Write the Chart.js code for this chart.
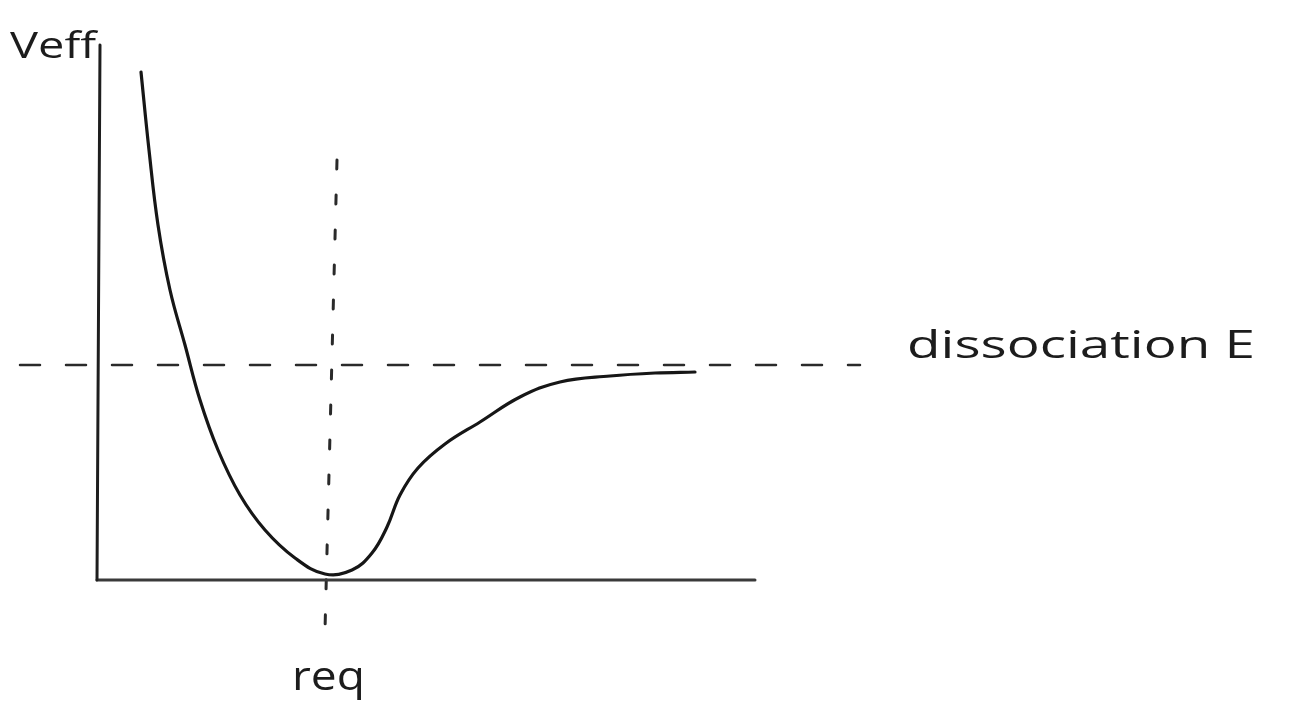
<!DOCTYPE html>
<html>
<head>
<meta charset="utf-8">
<script src="https://cdn.jsdelivr.net/npm/chart.js@4.4.1/dist/chart.umd.min.js"></script>
<style>
  html, body { margin: 0; padding: 0; background: #ffffff; }
  #wrap { width: 1304px; height: 726px; position: relative; }
</style>
</head>
<body>
<div id="wrap"><canvas id="c"></canvas></div>
<script>
// ---- data (r = separation, V = effective potential, arbitrary units) ----
const curveR = [0.44, 0.52, 0.61, 0.73, 0.88, 1.03, 1.21, 1.43, 1.68, 1.98, 2.28, 2.55, 2.75, 2.90, 3.03, 3.21, 3.48, 3.83, 4.23, 4.63, 5.13, 5.58, 5.98];
const curveV = [5.08, 4.30, 3.55, 2.90, 2.35, 1.80, 1.30, 0.85, 0.50, 0.22, 0.06, 0.10, 0.27, 0.53, 0.85, 1.12, 1.36, 1.58, 1.83, 1.98, 2.04, 2.07, 2.08];
const dissocR = [-0.77, 7.63];
const dissocV = [2.15, 2.15];
const reqR = [2.40, 2.28];
const reqV = [4.20, -0.50];
const yAxisR = [0.03, 0.00];
const yAxisV = [5.35, 0.00];
const xAxisR = [0.00, 6.58];
const xAxisV = [0.00, 0.00];
const labelTexts = ["Veff", "dissociation E", "req"];

const pts = (xs, ys) => xs.map((x, i) => ({ x: x, y: ys[i] }));

// label placement (left r, baseline V, width in r units, font px)
const labelPlacement = [
  { r: -0.87, v: 5.22, w: 0.86, size: 36 },
  { r: 8.10, v: 2.22, w: 3.48, size: 38 },
  { r: 1.95, v: -1.10, w: 0.73, size: 40 }
];

const textPlugin = {
  id: 'sketchText',
  afterDatasetsDraw(chart) {
    const ctx = chart.ctx;
    const xs = chart.scales.x, ys = chart.scales.y;
    ctx.save();
    ctx.fillStyle = '#1c1c1c';
    ctx.textBaseline = 'alphabetic';
    labelTexts.forEach((t, i) => {
      const p = labelPlacement[i];
      const px = xs.getPixelForValue(p.r);
      const py = ys.getPixelForValue(p.v);
      const target = xs.getPixelForValue(p.r + p.w) - px;
      ctx.font = p.size + 'px "Open Sans", "DejaVu Sans", sans-serif';
      const m = ctx.measureText(t).width;
      ctx.save();
      ctx.translate(px, py);
      ctx.scale(target / m, 1);
      ctx.fillText(t, 0, 0);
      ctx.restore();
    });
    ctx.restore();
  }
};

new Chart(document.getElementById('c'), {
  type: 'line',
  data: {
    datasets: [
      { data: pts(yAxisR, yAxisV), borderColor: '#1e1e1e', borderWidth: 3, pointRadius: 0, tension: 0 },
      { data: pts(xAxisR, xAxisV), borderColor: '#3a3a3a', borderWidth: 3, pointRadius: 0, tension: 0 },
      { data: pts(dissocR, dissocV), borderColor: '#2a2a2a', borderWidth: 2.5, borderDash: [20, 26], pointRadius: 0, tension: 0 },
      { data: pts(reqR, reqV), borderColor: '#2a2a2a', borderWidth: 3, borderDash: [9, 26], pointRadius: 0, tension: 0 },
      { data: pts(curveR, curveV), borderColor: '#161616', borderWidth: 3.2, pointRadius: 0, tension: 0.4 }
    ]
  },
  options: {
    responsive: true,
    maintainAspectRatio: false,
    animation: false,
    layout: { padding: 0 },
    plugins: { legend: { display: false }, tooltip: { enabled: false }, title: { display: false } },
    scales: {
      x: { type: 'linear', min: -0.97, max: 12.07, display: false },
      y: { type: 'linear', min: -1.46, max: 5.80, display: false }
    },
    elements: { line: { borderCapStyle: 'round', borderJoinStyle: 'round' } }
  },
  plugins: [textPlugin]
});
</script>
</body>
</html>
